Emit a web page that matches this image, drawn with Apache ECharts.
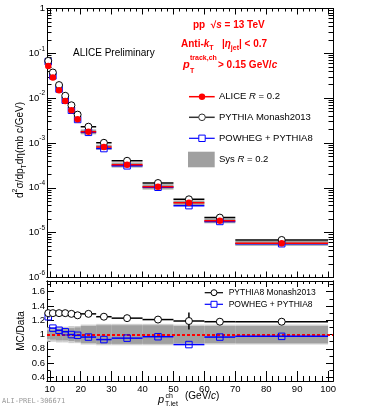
<!DOCTYPE html>
<html>
<head>
<meta charset="utf-8">
<script src="https://cdn.jsdelivr.net/npm/echarts@6/dist/echarts.min.js"></script>
<style>
html,body{margin:0;padding:0;background:#fff;}
#chart{width:366px;height:406px;}
</style>
</head>
<body>
<div id="chart"></div>
<script>
// pT,jet bins (GeV/c)
const ptLow = [9, 10, 12, 14, 16, 18, 20, 25, 30, 40, 50, 60, 70];
const ptHigh = [10, 12, 14, 16, 18, 20, 25, 30, 40, 50, 60, 70, 100];
const ptCenter = [9.5, 11, 13, 15, 17, 19, 22.5, 27.5, 35, 45, 55, 65, 85];

// d2sigma/dpT deta (mb c/GeV)
const aliceXsec = [0.0522, 0.0288, 0.0151, 0.00866, 0.00538, 0.00338, 0.00179, 8.1e-4, 3.26e-4, 1.06e-4, 4.66e-5, 1.84e-5, 5.82e-6];
const pythiaXsec = [0.0679, 0.0374, 0.0196, 0.0113, 0.00694, 0.00429, 0.00231, 1.01e-3, 4.01e-4, 1.28e-4, 5.55e-5, 2.17e-5, 6.87e-6];
const powhegXsec = [0.0653, 0.0314, 0.0160, 0.0090, 0.00538, 0.00335, 0.00173, 7.52e-4, 3.10e-4, 1.03e-4, 4.01e-5, 1.78e-5, 5.67e-6];
// relative systematic uncertainty of data
const aliceSysRel = [0.06, 0.07, 0.08, 0.08, 0.09, 0.10, 0.12, 0.13, 0.13, 0.13, 0.12, 0.12, 0.12];
const aliceSysRelOuter = [0.10, 0.10, 0.11, 0.11, 0.12, 0.12, 0.14, 0.15, 0.15, 0.15, 0.14, 0.14, 0.14];

// MC / Data
const pythiaRatio = [1.30, 1.30, 1.30, 1.30, 1.29, 1.27, 1.29, 1.25, 1.23, 1.21, 1.19, 1.18, 1.18];
const pythiaRatioErr = [0.01, 0.005, 0.005, 0.005, 0.005, 0.005, 0.005, 0.005, 0.008, 0.01, 0.12, 0.01, 0.01];
const powhegRatio = [1.25, 1.09, 1.06, 1.04, 1.00, 0.99, 0.965, 0.93, 0.95, 0.97, 0.86, 0.965, 0.975];

// axis ticks
const xMajor = [10, 20, 30, 40, 50, 60, 70, 80, 90, 100];
const yUpMajor = [1e-6, 1e-5, 1e-4, 1e-3, 1e-2, 1e-1, 1];
const yLoMajor = [0.4, 0.6, 0.8, 1, 1.2, 1.4, 1.6];
const yLoMinor = [0.5, 0.7, 0.9, 1.1, 1.3, 1.5, 1.7];

const xMinor = [];
for (let v = 12; v < 100; v += 2) if (v % 10 !== 0) xMinor.push(v);
const yUpMinor = [];
for (let e = -6; e < 0; e++) for (let k = 2; k <= 9; k++) yUpMinor.push(Number((k * Math.pow(10, e)).toPrecision(3)));

const FONT = '"Liberation Sans", Arial, Helvetica, sans-serif';
const RED = '#ff0000', BLUE = '#0000ff';
const X_MIN = 9.1, X_MAX = 101.6;

function xAx(grid, pos, ticks, len, labels) {
  return {
    type: 'value', gridIndex: grid, position: pos, min: X_MIN, max: X_MAX,
    axisLine: {show: true, lineStyle: {color: '#000', width: 1}},
    axisTick: {show: true, inside: true, length: len, customValues: ticks, lineStyle: {color: '#000', width: 1}},
    axisLabel: labels ? {show: true, customValues: ticks, margin: 3, color: '#000', fontSize: 9.5, fontFamily: FONT} : {show: false},
    splitLine: {show: false}
  };
}
function yAx(grid, pos, type, min, max, ticks, len, label) {
  const ax = {
    type: type, gridIndex: grid, position: pos, min: min, max: max,
    axisLine: {show: true, lineStyle: {color: '#000', width: 1}},
    axisTick: {show: true, inside: true, length: len, customValues: ticks, lineStyle: {color: '#000', width: 1}},
    axisLabel: {show: false},
    splitLine: {show: false}
  };
  if (type === 'log') ax.logBase = 10;
  if (label) ax.axisLabel = Object.assign({show: true, customValues: ticks, margin: 2, color: '#000', fontSize: 9.5, fontFamily: FONT}, label);
  return ax;
}

const logLabel = {
  formatter: function (v) {
    const e = Math.round(Math.log10(v));
    return e === 0 ? '{b|1}' : '{b|10}{s|' + e + '}';
  },
  rich: {
    b: {fontSize: 9.5, fontFamily: FONT, color: '#000', lineHeight: 16},
    s: {fontSize: 6.5, fontFamily: FONT, color: '#000', verticalAlign: 'top'}
  }
};

function hbar(color, width) {
  return function (params, api) {
    const p0 = api.coord([api.value(0), api.value(2)]);
    const p1 = api.coord([api.value(1), api.value(2)]);
    const children = [{type: 'line', shape: {x1: p0[0], y1: p0[1], x2: p1[0], y2: p1[1]}, style: {stroke: color, lineWidth: width}}];
    const err = api.value(3);
    if (err > 0.02) {
      const xc = api.value(4);
      const a = api.coord([xc, api.value(2) + err]);
      const b = api.coord([xc, api.value(2) - err]);
      children.push({type: 'line', shape: {x1: a[0], y1: a[1], x2: b[0], y2: b[1]}, style: {stroke: color, lineWidth: width}});
    }
    return {type: 'group', children: children};
  };
}
function box(color) {
  return function (params, api) {
    const p0 = api.coord([api.value(0), api.value(3)]);
    const p1 = api.coord([api.value(1), api.value(2)]);
    return {type: 'rect', shape: {x: p0[0], y: p0[1], width: p1[0] - p0[0], height: p1[1] - p0[1]}, style: {fill: color}};
  };
}

const sysBoxData = ptLow.map((lo, i) => [lo, ptHigh[i], aliceXsec[i] * (1 - aliceSysRel[i]), aliceXsec[i] * (1 + aliceSysRel[i])]);
const hData = vals => ptLow.map((lo, i) => [lo, ptHigh[i], vals[i], 0, ptCenter[i]]);
const pts = vals => ptCenter.map((x, i) => [x, vals[i]]);
const bandData = rel => ptLow.map((lo, i) => [lo, ptHigh[i], 1 - rel[i], 1 + rel[i]]);

const up = {xAxisIndex: 0, yAxisIndex: 0};
const lo = {xAxisIndex: 4, yAxisIndex: 4};

const option = {
  animation: false,
  backgroundColor: '#fff',
  grid: [
    {left: 47, top: 8.5, width: 286, height: 269, outerBoundsMode: 'none'},
    {left: 47, top: 281, width: 286, height: 100, outerBoundsMode: 'none'}
  ],
  xAxis: [
    xAx(0, 'bottom', xMajor, 6, false),
    xAx(0, 'bottom', xMinor, 3, false),
    xAx(0, 'top', xMajor, 6, false),
    xAx(0, 'top', xMinor, 3, false),
    xAx(1, 'bottom', xMajor, 10, true),
    xAx(1, 'bottom', xMinor, 5, false),
    xAx(1, 'top', xMajor, 6, false),
    xAx(1, 'top', xMinor, 3, false)
  ],
  yAxis: [
    yAx(0, 'left', 'log', 1e-6, 1, yUpMajor, 9, logLabel),
    yAx(0, 'left', 'log', 1e-6, 1, yUpMinor, 4.5),
    yAx(0, 'right', 'log', 1e-6, 1, yUpMajor, 9),
    yAx(0, 'right', 'log', 1e-6, 1, yUpMinor, 4.5),
    yAx(1, 'left', 'value', 0.35, 1.75, yLoMajor, 7, {}),
    yAx(1, 'left', 'value', 0.35, 1.75, yLoMinor, 3.5),
    yAx(1, 'right', 'value', 0.35, 1.75, yLoMajor, 7),
    yAx(1, 'right', 'value', 0.35, 1.75, yLoMinor, 3.5)
  ],
  series: [
    Object.assign({type: 'custom', clip: true, renderItem: box('#a0a0a0'), data: sysBoxData, encode: {x: [0, 1], y: [2, 3]}, z: 1}, up),
    Object.assign({type: 'custom', clip: true, renderItem: hbar('#000', 1.5), data: hData(pythiaXsec), encode: {x: [0, 1], y: 2}, z: 2}, up),
    Object.assign({type: 'custom', clip: true, renderItem: hbar(BLUE, 1.5), data: hData(powhegXsec), encode: {x: [0, 1], y: 2}, z: 2}, up),
    Object.assign({type: 'custom', clip: true, renderItem: hbar(RED, 1.5), data: hData(aliceXsec), encode: {x: [0, 1], y: 2}, z: 2}, up),
    Object.assign({type: 'scatter', symbol: 'rect', symbolSize: 6.5, data: pts(powhegXsec), itemStyle: {color: 'rgba(0,0,0,0)', borderColor: BLUE, borderWidth: 1, opacity: 1}, z: 3}, up),
    Object.assign({type: 'scatter', symbol: 'circle', symbolSize: 7, data: pts(pythiaXsec), itemStyle: {color: '#fff', borderColor: '#000', borderWidth: 1, opacity: 1}, z: 4}, up),
    Object.assign({type: 'scatter', symbol: 'circle', symbolSize: 6.5, data: pts(aliceXsec), itemStyle: {color: RED, opacity: 1}, z: 5}, up),

    Object.assign({type: 'custom', clip: true, renderItem: box('#cfcfcf'), data: bandData(aliceSysRelOuter), encode: {x: [0, 1], y: [2, 3]}, z: 1}, lo),
    Object.assign({type: 'custom', clip: true, renderItem: box('#a0a0a0'), data: bandData(aliceSysRel), encode: {x: [0, 1], y: [2, 3]}, z: 1}, lo),
    Object.assign({type: 'custom', clip: true, renderItem: hbar(BLUE, 1.5), data: hData(powhegRatio), encode: {x: [0, 1], y: 2}, z: 2}, lo),
    Object.assign({type: 'custom', clip: true, renderItem: hbar('#000', 1.5), data: ptLow.map((l, i) => [l, ptHigh[i], pythiaRatio[i], pythiaRatioErr[i], ptCenter[i]]), encode: {x: [0, 1], y: 2}, z: 2}, lo),
    Object.assign({type: 'scatter', symbol: 'rect', symbolSize: 6.5, data: pts(powhegRatio), itemStyle: {color: 'rgba(0,0,0,0)', borderColor: BLUE, borderWidth: 1, opacity: 1}, z: 3}, lo),
    Object.assign({type: 'scatter', symbol: 'circle', symbolSize: 7, data: pts(pythiaRatio), itemStyle: {color: '#fff', borderColor: '#000', borderWidth: 1, opacity: 1}, z: 4,
      markLine: {silent: true, symbol: 'none', label: {show: false}, data: [{yAxis: 1}], lineStyle: {color: RED, type: [3, 2], width: 2}, z: 2}}, lo)
  ],
  graphic: [
    // axis titles
    {type: 'text', x: 20, y: 150, rotation: Math.PI / 2, style: {
      text: '{n|d}{u|2}{n|σ/dp}{d|T}{n|dη(mb c/GeV)}', align: 'center', verticalAlign: 'middle',
      rich: {
        n: {fontSize: 10, fontFamily: FONT, fill: '#000', lineHeight: 16},
        u: {fontSize: 7, fontFamily: FONT, fill: '#000', verticalAlign: 'top'},
        d: {fontSize: 7, fontFamily: FONT, fill: '#000', verticalAlign: 'bottom'}
      }}},
    {type: 'text', x: 21, y: 331, rotation: Math.PI / 2, style: {text: 'MC/Data', fontSize: 10, fontFamily: FONT, fill: '#000', align: 'center', verticalAlign: 'middle'}},
    {type: 'text', x: 158, y: 399.5, style: {text: 'p', fontSize: 11, fontStyle: 'italic', fontFamily: FONT, fill: '#000', align: 'left', verticalAlign: 'middle'}},
    {type: 'text', x: 165.5, y: 396.5, style: {text: 'ch', fontSize: 7, fontFamily: FONT, fill: '#000', align: 'left', verticalAlign: 'middle'}},
    {type: 'text', x: 165, y: 404, style: {text: 'T,jet', fontSize: 7, fontFamily: FONT, fill: '#000', align: 'left', verticalAlign: 'middle'}},
    {type: 'text', x: 185, y: 396.5, style: {text: '{n|(GeV/}{i|c}{n|)}', align: 'left', verticalAlign: 'middle',
      rich: {n: {fontSize: 10, fontFamily: FONT, fill: '#000'}, i: {fontSize: 10, fontFamily: FONT, fontStyle: 'italic', fill: '#000'}}}},

    // labels
    {type: 'text', x: 73, y: 53, style: {text: 'ALICE Preliminary', fontSize: 10, fontFamily: FONT, fill: '#000', align: 'left', verticalAlign: 'middle'}},
    {type: 'text', x: 193, y: 25, style: {text: '{b|pp  √}{i|s}{b| = 13 TeV}', align: 'left', verticalAlign: 'middle',
      rich: {b: {fontSize: 10, fontWeight: 'bold', fontFamily: FONT, fill: RED}, i: {fontSize: 10, fontWeight: 'bold', fontStyle: 'italic', fontFamily: FONT, fill: RED}}}},
    {type: 'text', x: 181, y: 44, style: {text: '{b|Anti-}{i|k}{s|T}{b|   |}{i|η}{s|jet}{b|| < 0.7}', align: 'left', verticalAlign: 'middle',
      rich: {
        b: {fontSize: 10, fontWeight: 'bold', fontFamily: FONT, fill: RED, lineHeight: 16},
        i: {fontSize: 10, fontWeight: 'bold', fontStyle: 'italic', fontFamily: FONT, fill: RED, lineHeight: 16},
        s: {fontSize: 7, fontWeight: 'bold', fontFamily: FONT, fill: RED, verticalAlign: 'bottom'}
      }}},
    {type: 'text', x: 183, y: 65, style: {text: 'p', fontSize: 11, fontWeight: 'bold', fontStyle: 'italic', fontFamily: FONT, fill: RED, align: 'left', verticalAlign: 'middle'}},
    {type: 'text', x: 190, y: 58, style: {text: 'track,ch', fontSize: 7, fontWeight: 'bold', fontFamily: FONT, fill: RED, align: 'left', verticalAlign: 'middle'}},
    {type: 'text', x: 190, y: 71, style: {text: 'T', fontSize: 7, fontWeight: 'bold', fontFamily: FONT, fill: RED, align: 'left', verticalAlign: 'middle'}},
    {type: 'text', x: 218, y: 65, style: {text: '{b|> 0.15 GeV/}{i|c}', align: 'left', verticalAlign: 'middle',
      rich: {b: {fontSize: 10, fontWeight: 'bold', fontFamily: FONT, fill: RED}, i: {fontSize: 10, fontWeight: 'bold', fontStyle: 'italic', fontFamily: FONT, fill: RED}}}},

    // upper legend
    {type: 'line', shape: {x1: 189, y1: 96.7, x2: 214.7, y2: 96.7}, style: {stroke: RED, lineWidth: 1.5}},
    {type: 'circle', shape: {cx: 202, cy: 96.7, r: 3.2}, style: {fill: RED}},
    {type: 'text', x: 219, y: 96.7, style: {text: '{n|ALICE }{i|R}{n| = 0.2}', align: 'left', verticalAlign: 'middle',
      rich: {n: {fontSize: 9.5, fontFamily: FONT, fill: '#000'}, i: {fontSize: 9.5, fontStyle: 'italic', fontFamily: FONT, fill: '#000'}}}},
    {type: 'line', shape: {x1: 189, y1: 117.3, x2: 214.7, y2: 117.3}, style: {stroke: '#333', lineWidth: 1.5}},
    {type: 'circle', shape: {cx: 202, cy: 117.3, r: 3.3}, style: {fill: '#fff', stroke: '#333', lineWidth: 1}},
    {type: 'text', x: 219, y: 117.3, style: {text: 'PYTHIA Monash2013', fontSize: 9.5, fontFamily: FONT, fill: '#000', align: 'left', verticalAlign: 'middle'}},
    {type: 'line', shape: {x1: 189, y1: 138.3, x2: 214.7, y2: 138.3}, style: {stroke: BLUE, lineWidth: 1.2}},
    {type: 'rect', shape: {x: 198.8, y: 135.1, width: 6.4, height: 6.4}, style: {fill: '#fff', stroke: BLUE, lineWidth: 1}},
    {type: 'text', x: 219, y: 138.3, style: {text: 'POWHEG + PYTHIA8', fontSize: 9.5, fontFamily: FONT, fill: '#000', align: 'left', verticalAlign: 'middle'}},
    {type: 'rect', shape: {x: 188, y: 151.7, width: 26.7, height: 15.6}, style: {fill: '#a0a0a0'}},
    {type: 'text', x: 219, y: 159.3, style: {text: '{n|Sys }{i|R}{n| = 0.2}', align: 'left', verticalAlign: 'middle',
      rich: {n: {fontSize: 9.5, fontFamily: FONT, fill: '#000'}, i: {fontSize: 9.5, fontStyle: 'italic', fontFamily: FONT, fill: '#000'}}}},

    // lower legend
    {type: 'line', shape: {x1: 204.7, y1: 292.7, x2: 223, y2: 292.7}, style: {stroke: '#000', lineWidth: 1.2}},
    {type: 'circle', shape: {cx: 214, cy: 292.7, r: 3}, style: {fill: '#fff', stroke: '#000', lineWidth: 1}},
    {type: 'text', x: 228.7, y: 292.7, style: {text: 'PYTHIA8 Monash2013', fontSize: 8.5, fontFamily: FONT, fill: '#000', align: 'left', verticalAlign: 'middle'}},
    {type: 'line', shape: {x1: 204.7, y1: 304.3, x2: 223, y2: 304.3}, style: {stroke: BLUE, lineWidth: 1.2}},
    {type: 'rect', shape: {x: 211, y: 301.3, width: 6, height: 6}, style: {fill: '#fff', stroke: BLUE, lineWidth: 1}},
    {type: 'text', x: 228.7, y: 304.3, style: {text: 'POWHEG + PYTHIA8', fontSize: 8.5, fontFamily: FONT, fill: '#000', align: 'left', verticalAlign: 'middle'}},

    {type: 'text', x: 2, y: 401.5, style: {text: 'ALI-PREL-306671', fontSize: 7, fontFamily: '"DejaVu Sans Mono", monospace', fill: '#9a9a9a', align: 'left', verticalAlign: 'middle'}}
  ]
};

const myChart = echarts.init(document.getElementById('chart'));
myChart.setOption(option);
</script>
</body>
</html>
